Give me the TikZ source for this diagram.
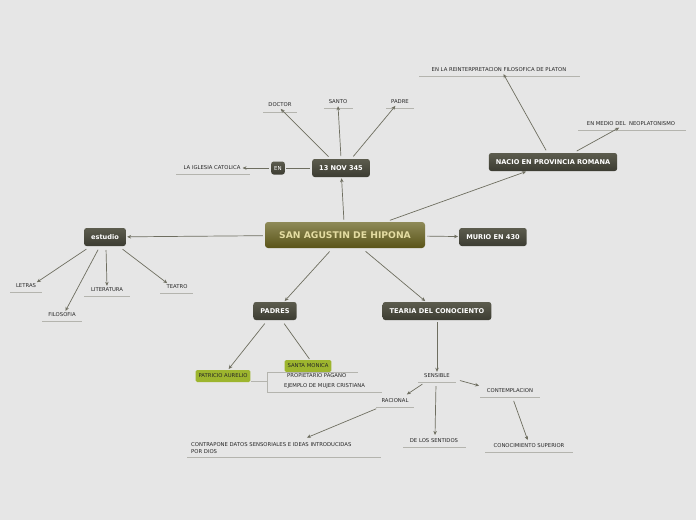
\documentclass[tikz,border=0pt]{standalone}
\usepackage{fontspec}
\setmainfont{DejaVu Sans}
\usetikzlibrary{arrows.meta}
\definecolor{bg}{HTML}{E6E6E6}
\definecolor{ln}{HTML}{6E6E60}
\definecolor{ul}{HTML}{B4B4AE}
\definecolor{boxt}{HTML}{5C5C4E}
\definecolor{boxb}{HTML}{3C3C32}
\definecolor{gr}{HTML}{9DB52E}
\definecolor{mt}{HTML}{8E8A58}
\definecolor{mb}{HTML}{5A5418}
\definecolor{mtx}{HTML}{E4DCA2}
\tikzset{
 box/.style={rounded corners=2.5pt,top color=boxt,bottom color=boxb,text=white,font=\bfseries\fontsize{6.6}{7}\selectfont,minimum height=18pt,inner xsep=7pt},
 mainbox/.style={rounded corners=3pt,top color=mt,bottom color=mb,text=mtx,font=\bfseries\fontsize{9.2}{10}\selectfont,minimum width=160pt,minimum height=26pt},
 lbl/.style={font=\fontsize{5.3}{6.3}\selectfont,text=black!85,inner sep=1pt},
 grn/.style={rounded corners=1.5pt,fill=gr,font=\fontsize{5.3}{6}\selectfont,text=black!85,minimum height=12pt,inner xsep=3pt},
 ar/.style={draw=ln,line width=0.7pt,-{Stealth[length=4pt,width=3.5pt]},shorten >=1pt,shorten <=2pt},
 pl/.style={draw=ln,line width=0.7pt,shorten <=2pt,shorten >=1pt},
 uln/.style={draw=ul,line width=0.8pt}
}
\newcommand{\ulab}[5]{\node[lbl] (#1) at (#2) {#3}; \draw[uln] (#4) -- (#5);}
\begin{document}
\begin{tikzpicture}[x=1pt,y=-1pt]
\fill[bg] (0,0) rectangle (696,520);
\useasboundingbox (0,0) rectangle (696,520);
\node[mainbox] (m) at (345,235) {SAN AGUSTIN DE HIPONA};
\node[box] (nov) at (341,168) {13 NOV 345};
\node[box,minimum height=13pt,inner xsep=3pt,font=\fontsize{5.5}{6}\selectfont] (en) at (278,168) {EN};
\node[box] (nac) at (553,162) {NACIO EN PROVINCIA ROMANA};
\node[box] (mur) at (493,237) {MURIO EN 430};
\node[box] (est) at (105,237) {estudio};
\node[box] (pad) at (275,311) {PADRES};
\node[box] (tea) at (437,311) {TEARIA DEL CONOCIENTO};
\node[grn] (sm) at (308,366) {SANTA MONICA};
\node[grn] (pa) at (223,376) {PATRICIO AURELIO};
\ulab{doc}{280,105}{DOCTOR}{263,112}{297,112}
\ulab{san}{338,102}{SANTO}{324,108}{353,108}
\ulab{pdr}{400,102}{PADRE}{386,108}{414,108}
\ulab{igl}{212,168}{LA IGLESIA CATOLICA}{176,174}{250,174}
\ulab{rei}{499,70}{EN LA REINTERPRETACION FILOSOFICA DE PLATON}{419,76}{580,76}
\ulab{neo}{631,124}{EN MEDIO DEL \ NEOPLATONISMO}{578,130}{686,130}
\ulab{let}{26,286}{LETRAS}{10,292}{42,292}
\ulab{fil}{62,315}{FILOSOFIA}{42,321}{82,321}
\ulab{lit}{107,290}{LITERATURA}{84,296}{130,296}
\ulab{tea2}{177,287}{TEATRO}{160,293}{193,293}
\ulab{sen}{437,376}{SENSIBLE}{418,382}{456,382}
\ulab{rac}{395,401}{RACIONAL}{376,407}{414,407}
\ulab{con}{510,391}{CONTEMPLACION}{480,397}{540,397}
\ulab{sent}{434,441}{DE LOS SENTIDOS}{403,447}{466,447}
\ulab{sup}{529,446}{CONOCIMIENTO SUPERIOR}{485,452}{573,452}
\node[lbl,align=left,anchor=west] (ctr) at (190,448) {CONTRAPONE DATOS SENSORIALES E IDEAS INTRODUCIDAS\\POR DIOS};
\draw[uln] (187,457) -- (381,457);
\node[lbl,anchor=west] (pp) at (286,376) {PROPIETARIO PAGANO};
\node[lbl,anchor=west] (ej) at (283,386) {EJEMPLO DE MUJER CRISTIANA};
\draw[uln] (pa.east|-0,381) -- (267,381);
\draw[uln] (358,372) -- (267,372) -- (267,392) -- (382,392);
% edges
\draw[ar] (m.north -| 344,0) -- (nov);
\draw[ar] (388,221) -- (nac.south -| 527,0);
\draw[ar] (m) -- (mur);
\draw[ar] (m) -- (est);
\draw[ar] (331,250) -- (pad.north -| 284,0);
\draw[ar] (364,250) -- (tea.north -| 426,0);
\draw[ar] (330,158) -- (doc.south);
\draw[ar] (341,158) -- (san.south);
\draw[ar] (352,158) -- (pdr.south -| 396,0);
\draw[pl] (nov) -- (en);
\draw[ar] (en) -- (igl.east);
\draw[ar] (547,152) -- (rei.south -| 503,0);
\draw[ar] (575,152) -- (neo.south -| 620,0);
\draw[ar] (88,248) -- (let.north -| 36,0);
\draw[ar] (99,248) -- (fil.north -| 65,0);
\draw[ar] (106,248) -- (lit.north);
\draw[ar] (121,248) -- (tea2.north -| 168,0);
\draw[ar] (266,322) -- (pa.north -| 228,0);
\draw[pl] (283,322) -- (sm.north -| 310,0);
\draw[ar] (tea.south -| 437,0) -- (sen.north);
\draw[ar] (424,383) -- (406,395);
\draw[ar] (436,384) -- (435,436);
\draw[ar] (458,380) -- (480,386);
\draw[ar] (378,408) -- (306,438);
\draw[ar] (513,399) -- (528,441);
\end{tikzpicture}
\end{document}
